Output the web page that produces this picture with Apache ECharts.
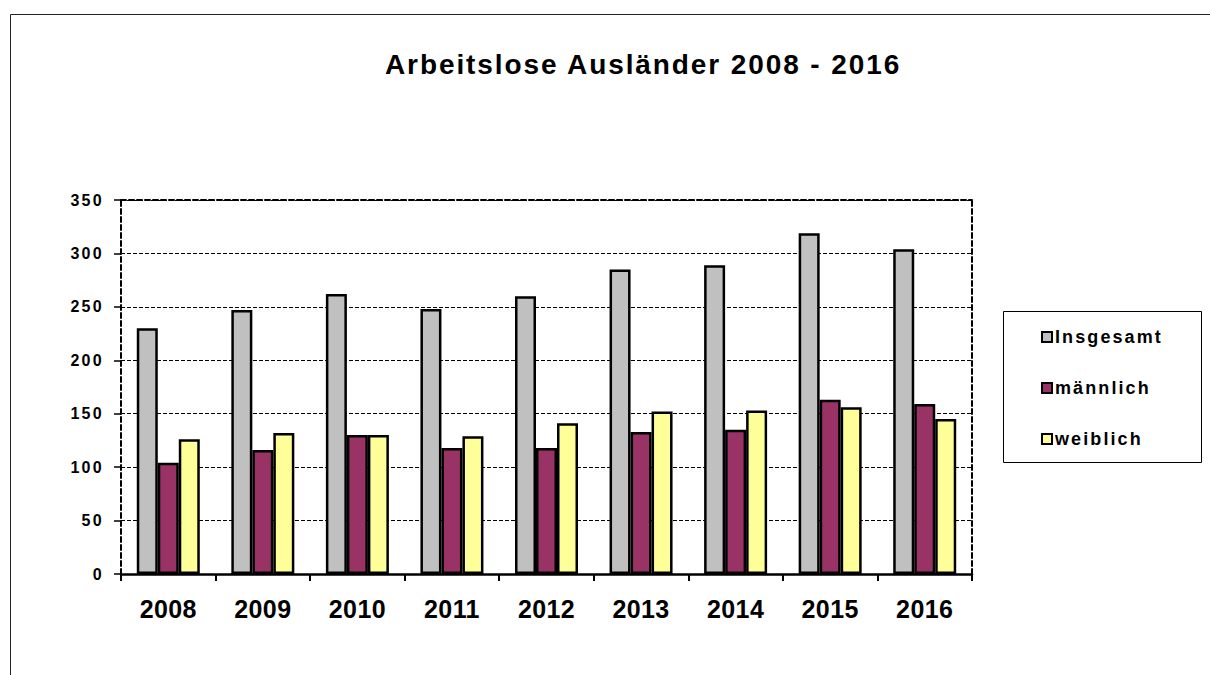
<html style="height: 100%">
<head>
    <meta charset="utf-8">
    <style>
        /* the reference lettering is a little spaced out */
        #container text[style*="28px"] { letter-spacing: 1.9px; }
        #container text[style*="18px"] { letter-spacing: 2.1px; }
        #container text[style*="16px"] { letter-spacing: 2.3px; }
        #container text[style*="25px"] { letter-spacing: 0.4px; }
    </style>
</head>
<body style="height: 100%; margin: 0; background: #fff">
    <div id="container" style="width: 1210px; height: 675px"></div>
    <script src="https://cdn.jsdelivr.net/npm/echarts@6/dist/echarts.min.js"></script>
    <script type="text/javascript">
        var years = ['2008', '2009', '2010', '2011', '2012', '2013', '2014', '2015', '2016'];
        var insgesamt = [230, 247, 262, 248, 260, 285, 289, 319, 304];
        var maennlich = [104, 116, 130, 118, 118, 133, 135, 163, 159];
        var weiblich = [126, 132, 130, 129, 141, 152, 153, 156, 145];
        var yTicks = [0, 50, 100, 150, 200, 250, 300, 350];

        var chart = echarts.init(document.getElementById('container'), null, { renderer: 'svg' });
        var font = 'Liberation Sans, Arial, sans-serif';

        function barSeries(name, data, color) {
            return {
                name: name,
                type: 'bar',
                data: data,
                barWidth: 21,
                barGap: '0%',
                itemStyle: { color: color, borderColor: '#000', borderWidth: 2.5 }
            };
        }

        var option = {
            backgroundColor: '#fff',
            animation: false,
            title: {
                text: 'Arbeitslose Ausländer 2008 - 2016',
                left: 380,
                top: 45,
                textStyle: { fontFamily: font, fontSize: 28, fontWeight: 'bold', color: '#000' }
            },
            graphic: [
                // outer chart frame (only top and left edges are visible)
                { type: 'rect', shape: { x: 10.5, y: 14.5, width: 1250, height: 700 },
                  style: { fill: null, stroke: '#222', lineWidth: 1 } },
                // legend box
                { type: 'rect', shape: { x: 1003.5, y: 311.5, width: 198, height: 151 },
                  style: { fill: '#fff', stroke: '#000', lineWidth: 1 } }
            ],
            legend: {
                orient: 'vertical',
                left: 1036,
                top: 323,
                itemWidth: 10,
                itemHeight: 10,
                itemGap: 33,
                icon: 'rect',
                z: 10,
                itemStyle: { borderColor: '#000', borderWidth: 2 },
                textStyle: { fontFamily: font, fontSize: 18, fontWeight: 'bold', color: '#000', padding: [0, 0, 0, -2] },
                data: ['Insgesamt', 'männlich', 'weiblich']
            },
            grid: { left: 121, right: 238, top: 200, bottom: 101 },
            xAxis: [{
                type: 'category',
                data: years,
                axisLine: { lineStyle: { color: '#000', width: 2.5 } },
                axisTick: { show: true, length: 7, lineStyle: { color: '#000', width: 2 } },
                axisLabel: { margin: 22, fontFamily: font, fontSize: 25, fontWeight: 'bold', color: '#000' }
            }, {
                type: 'category',
                data: years,
                position: 'top',
                axisLine: { onZero: false, lineStyle: { color: '#000', width: 2, type: [5, 3] } },
                axisTick: { show: false },
                axisLabel: { show: false }
            }],
            yAxis: [{
                type: 'value',
                min: 0,
                max: 350,
                interval: 50,
                axisLine: { show: true, lineStyle: { color: '#000', width: 2, type: [5, 3] } },
                axisTick: { show: true, length: 7, lineStyle: { color: '#000', width: 1.5 } },
                axisLabel: {
                    margin: 17, fontFamily: font, fontSize: 16, fontWeight: 'bold', color: '#000',
                    formatter: function (v) { return yTicks.indexOf(v) >= 0 ? String(v) : ''; }
                },
                splitLine: { show: true, lineStyle: { color: '#000', width: 1, type: [4, 2] } }
            }, {
                type: 'value',
                min: 0,
                max: 350,
                interval: 50,
                position: 'right',
                axisLine: { show: true, lineStyle: { color: '#000', width: 2, type: [5, 3] } },
                axisTick: { show: false },
                axisLabel: { show: false },
                splitLine: { show: false }
            }],
            series: [
                barSeries('Insgesamt', insgesamt, '#c0c0c0'),
                barSeries('männlich', maennlich, '#993366'),
                barSeries('weiblich', weiblich, '#ffff99')
            ]
        };

        chart.setOption(option);
    </script>
</body>
</html>
